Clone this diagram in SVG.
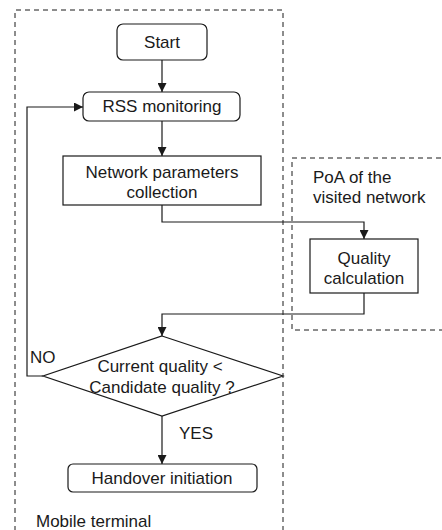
<svg xmlns="http://www.w3.org/2000/svg" width="442" height="530" viewBox="0 0 442 530">
  <defs>
    <marker id="arrow" viewBox="0 0 10 10" refX="10" refY="5" markerWidth="9" markerHeight="9" markerUnits="userSpaceOnUse" orient="auto">
      <path d="M0,0 L10,5 L0,10 Z" fill="#1a1a1a"/>
    </marker>
    <style>
      .box { fill: #ffffff; stroke: #1a1a1a; stroke-width: 1.2; }
      .zone { fill: none; stroke: #1a1a1a; stroke-width: 1; stroke-dasharray: 5 4; }
      .link { fill: none; stroke: #1a1a1a; stroke-width: 1.2; }
      .arrow { marker-end: url(#arrow); }
      text { font-family: "Liberation Sans", Arial, sans-serif; font-size: 17px; fill: #1a1a1a; }
      .c { text-anchor: middle; }
    </style>
  </defs>
  <rect width="442" height="530" fill="#ffffff"/>

  <!-- Regions -->
  <g id="mobile-terminal">
    <path class="zone" d="M15,540 L15,10 L283,10 L283,540"/>
    <text x="36" y="527">Mobile terminal</text>
  </g>
  <g id="poa-visited-network">
    <path class="zone" d="M450,158 L292,158 L292,330 L450,330"/>
    <text x="313" y="183">PoA of the</text>
    <text x="313" y="203">visited network</text>
  </g>

  <!-- Connectors -->
  <g id="connectors">
    <path class="link arrow" d="M162,60 L162,92"/>
    <path class="link arrow" d="M162,121 L162,156"/>
    <path class="link arrow" d="M162,205 L162,222 L364,222 L364,239"/>
    <path class="link arrow" d="M364,293 L364,314 L162,314 L162,336"/>
    <path class="link arrow" d="M43,376 L27,376 L27,107 L83,107"/>
    <path class="link arrow" d="M162,416 L162,464"/>
    <text x="30" y="363">NO</text>
    <text x="179" y="439">YES</text>
  </g>

  <!-- Nodes -->
  <g id="start">
    <rect class="box" x="117" y="24" width="90" height="36" rx="6"/>
    <text class="c" x="162" y="48">Start</text>
  </g>
  <g id="rss-monitoring">
    <rect class="box" x="83" y="92" width="157" height="29" rx="6"/>
    <text class="c" x="162" y="112">RSS monitoring</text>
  </g>
  <g id="network-parameters">
    <rect class="box" x="63" y="156" width="198" height="49"/>
    <text class="c" x="162" y="178">Network parameters</text>
    <text class="c" x="162" y="198">collection</text>
  </g>
  <g id="quality-calculation">
    <rect class="box" x="310" y="239" width="108" height="54"/>
    <text class="c" x="364" y="264">Quality</text>
    <text class="c" x="364" y="284">calculation</text>
  </g>
  <g id="quality-decision">
    <polygon class="box" points="162,336 283,376 162,416 43,376"/>
    <text class="c" x="160" y="372">Current quality &lt;</text>
    <text class="c" x="162" y="393">Candidate quality ?</text>
  </g>
  <g id="handover-initiation">
    <rect class="box" x="68" y="464" width="189" height="28" rx="5"/>
    <text class="c" x="162" y="484">Handover initiation</text>
  </g>
</svg>
